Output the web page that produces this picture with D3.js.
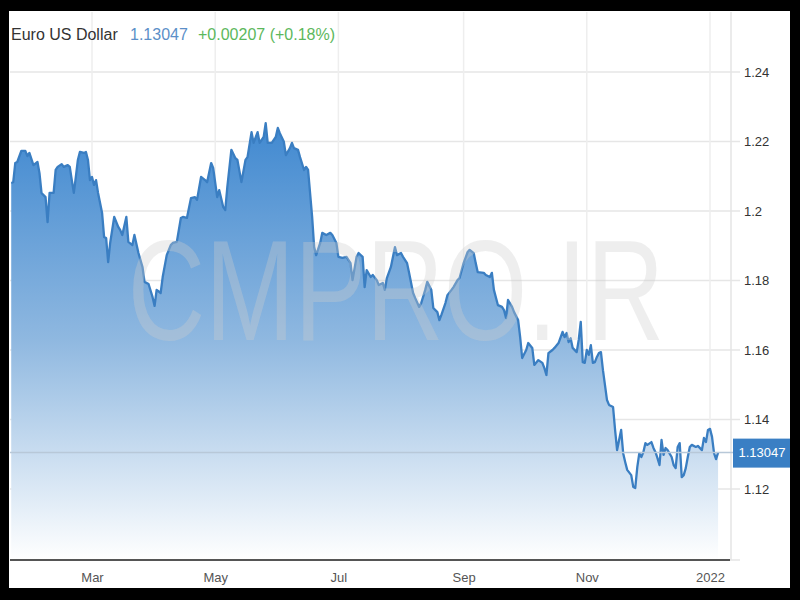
<!DOCTYPE html>
<html><head><meta charset="utf-8">
<script src="https://cdn.jsdelivr.net/npm/d3@7"></script>
<style>body{margin:0;background:#000}svg{display:block;font-family:"Liberation Sans",Arial,sans-serif}</style>
</head><body><svg id="c" width="800" height="600"></svg>
<script>
const dates = ["2021-01-20","2021-01-21","2021-01-22","2021-01-23","2021-01-25","2021-01-27","2021-01-28","2021-01-29","2021-01-31","2021-02-02",
"2021-02-03","2021-02-04","2021-02-06","2021-02-07","2021-02-08","2021-02-10","2021-02-11","2021-02-12","2021-02-14","2021-02-15",
"2021-02-17","2021-02-18","2021-02-19","2021-02-20","2021-02-21","2021-02-22","2021-02-23","2021-02-25","2021-02-26","2021-02-27",
"2021-02-28","2021-03-01","2021-03-02","2021-03-03","2021-03-04","2021-03-06","2021-03-07","2021-03-08","2021-03-09","2021-03-10",
"2021-03-12","2021-03-14","2021-03-15","2021-03-16","2021-03-18","2021-03-19","2021-03-21","2021-03-22","2021-03-24","2021-03-26",
"2021-03-27","2021-03-29","2021-03-31","2021-04-01","2021-04-02","2021-04-04","2021-04-05","2021-04-07","2021-04-09","2021-04-10",
"2021-04-12","2021-04-14","2021-04-15","2021-04-17","2021-04-19","2021-04-21","2021-04-22","2021-04-24","2021-04-26","2021-04-27",
"2021-04-29","2021-04-30","2021-05-02","2021-05-03","2021-05-05","2021-05-06","2021-05-07","2021-05-09","2021-05-11","2021-05-12",
"2021-05-14","2021-05-16","2021-05-17","2021-05-19","2021-05-20","2021-05-22","2021-05-23","2021-05-25","2021-05-26","2021-05-27",
"2021-05-29","2021-05-31","2021-06-01","2021-06-02","2021-06-04","2021-06-05","2021-06-07","2021-06-08","2021-06-09","2021-06-11",
"2021-06-12","2021-06-14","2021-06-15","2021-06-16","2021-06-18","2021-06-19","2021-06-20","2021-06-22","2021-06-23","2021-06-25",
"2021-06-27","2021-06-28","2021-06-30","2021-07-01","2021-07-03","2021-07-05","2021-07-07","2021-07-08","2021-07-10","2021-07-11",
"2021-07-13","2021-07-14","2021-07-15","2021-07-17","2021-07-18","2021-07-20","2021-07-21","2021-07-23","2021-07-24","2021-07-25",
"2021-07-27","2021-07-29","2021-07-30","2021-08-01","2021-08-02","2021-08-04","2021-08-05","2021-08-07","2021-08-08","2021-08-10",
"2021-08-11","2021-08-13","2021-08-14","2021-08-16","2021-08-17","2021-08-19","2021-08-20","2021-08-21","2021-08-23","2021-08-24",
"2021-08-26","2021-08-27","2021-08-29","2021-08-30","2021-09-01","2021-09-03","2021-09-04","2021-09-06","2021-09-07","2021-09-08",
"2021-09-11","2021-09-12","2021-09-14","2021-09-15","2021-09-16","2021-09-18","2021-09-20","2021-09-21","2021-09-22","2021-09-23",
"2021-09-25","2021-09-26","2021-09-28","2021-09-29","2021-09-30","2021-10-02","2021-10-03","2021-10-05","2021-10-06","2021-10-08",
"2021-10-10","2021-10-11","2021-10-12","2021-10-13","2021-10-15","2021-10-16","2021-10-18","2021-10-20","2021-10-21","2021-10-22",
"2021-10-23","2021-10-24","2021-10-25","2021-10-27","2021-10-28","2021-10-29","2021-10-30","2021-10-31","2021-11-01","2021-11-02",
"2021-11-03","2021-11-04","2021-11-05","2021-11-06","2021-11-07","2021-11-08","2021-11-09","2021-11-11","2021-11-12","2021-11-14",
"2021-11-15","2021-11-16","2021-11-17","2021-11-18","2021-11-19","2021-11-20","2021-11-21","2021-11-23","2021-11-24","2021-11-25",
"2021-11-26","2021-11-27","2021-11-28","2021-11-29","2021-11-30","2021-12-01","2021-12-03","2021-12-04","2021-12-05","2021-12-06",
"2021-12-07","2021-12-08","2021-12-09","2021-12-10","2021-12-11","2021-12-13","2021-12-14","2021-12-15","2021-12-16","2021-12-17",
"2021-12-18","2021-12-19","2021-12-20","2021-12-21","2021-12-22","2021-12-23","2021-12-25","2021-12-26","2021-12-28","2021-12-29",
"2021-12-30","2021-12-31","2022-01-01","2022-01-02","2022-01-03","2022-01-04","2022-01-05"];
const values = [1.2081,1.2083,1.2138,1.2141,1.2173,1.2173,1.2158,1.2167,1.2132,1.2141,
1.2109,1.2052,1.2040,1.1968,1.2052,1.2052,1.2118,1.2127,1.2135,1.2127,
1.2132,1.2127,1.2089,1.2052,1.2098,1.2147,1.2170,1.2167,1.2170,1.2147,
1.2089,1.2098,1.2075,1.2089,1.2052,1.1994,1.1925,1.1922,1.1853,1.1908,
1.1983,1.1954,1.1945,1.1931,1.1983,1.1911,1.1902,1.1931,1.1879,1.1839,
1.1796,1.1790,1.1752,1.1727,1.1773,1.1764,1.1810,1.1873,1.1902,1.1908,
1.1911,1.1980,1.1983,1.1980,1.2037,1.2040,1.2032,1.2098,1.2089,1.2083,
1.2138,1.2124,1.2040,1.2060,1.2011,1.2003,1.2069,1.2176,1.2152,1.2147,
1.2083,1.2147,1.2155,1.2227,1.2196,1.2227,1.2196,1.2213,1.2253,1.2196,
1.2196,1.2213,1.2239,1.2224,1.2199,1.2161,1.2181,1.2196,1.2181,1.2176,
1.2155,1.2118,1.2127,1.2118,1.1983,1.1896,1.1873,1.1908,1.1937,1.1931,
1.1937,1.1931,1.1908,1.1868,1.1865,1.1868,1.1850,1.1801,1.1868,1.1879,
1.1868,1.1781,1.1830,1.1810,1.1816,1.1801,1.1787,1.1793,1.1773,1.1807,
1.1839,1.1896,1.1873,1.1879,1.1868,1.1850,1.1822,1.1764,1.1750,1.1724,
1.1735,1.1773,1.1796,1.1773,1.1721,1.1709,1.1686,1.1701,1.1735,1.1758,
1.1773,1.1781,1.1801,1.1807,1.1850,1.1882,1.1888,1.1879,1.1850,1.1824,
1.1822,1.1816,1.1810,1.1822,1.1773,1.1729,1.1724,1.1715,1.1692,1.1744,
1.1724,1.1709,1.1686,1.1637,1.1577,1.1600,1.1620,1.1606,1.1557,1.1571,
1.1563,1.1548,1.1528,1.1591,1.1600,1.1606,1.1620,1.1652,1.1637,1.1649,
1.1623,1.1634,1.1606,1.1594,1.1629,1.1681,1.1565,1.1563,1.1600,1.1586,
1.1614,1.1563,1.1565,1.1580,1.1591,1.1594,1.1542,1.1456,1.1442,1.1436,
1.1370,1.1312,1.1341,1.1370,1.1303,1.1278,1.1255,1.1240,1.1206,1.1203,
1.1263,1.1303,1.1292,1.1306,1.1332,1.1327,1.1335,1.1318,1.1306,1.1289,
1.1269,1.1341,1.1298,1.1318,1.1312,1.1292,1.1269,1.1260,1.1321,1.1332,
1.1234,1.1240,1.1260,1.1292,1.1321,1.1327,1.1321,1.1324,1.1312,1.1347,
1.1335,1.1370,1.1373,1.1350,1.1303,1.1286,1.13047];
const yTicks = [1.12, 1.14, 1.16, 1.18, 1.2, 1.22, 1.24];
const xTickDates = ["2021-03-01","2021-05-01","2021-07-01","2021-09-01","2021-11-01","2022-01-01"];
const xTickLabels = ["Mar","May","Jul","Sep","Nov","2022"];
const titleText = "Euro US Dollar";
const lastPrice = 1.13047;
const changeText = "+0.00207 (+0.18%)";
const watermarkText = "CMPRO.IR";

const parse = d3.timeParse("%Y-%m-%d");
const data = dates.map((d, i) => ({date: parse(d), value: values[i]}));

const svg = d3.select("#c");
// frame
svg.append("rect").attr("width", 800).attr("height", 600).attr("fill", "#000");
svg.append("rect").attr("x", 9).attr("y", 11).attr("width", 781).attr("height", 577).attr("fill", "#fff");

const plotL = 10, plotR = 731, plotT = 12, plotB = 560;
const x = d3.scaleTime().domain([parse("2021-03-01"), parse("2022-01-01")]).range([92, 710]);
const y = d3.scaleLinear().domain([1.12, 1.24]).range([489, 72]);

const defs = svg.append("defs");
const grad = defs.append("linearGradient").attr("id", "g").attr("gradientUnits", "userSpaceOnUse")
  .attr("x1", 0).attr("x2", 0).attr("y1", 120).attr("y2", plotB);
grad.append("stop").attr("offset", "0").attr("stop-color", "#3f88d0");
grad.append("stop").attr("offset", "0.5").attr("stop-color", "#8fb8e0");
grad.append("stop").attr("offset", "1").attr("stop-color", "#ffffff");
defs.append("clipPath").attr("id", "clip").append("rect")
  .attr("x", plotL).attr("y", plotT).attr("width", plotR - plotL).attr("height", plotB - plotT);

// gridlines
const grid = svg.append("g");
grid.selectAll("line.h").data(yTicks).join("line").attr("class", "h")
  .attr("x1", plotL).attr("x2", 740).attr("y1", d => y(d)).attr("y2", d => y(d))
  .attr("stroke", "#e6e6e6").attr("stroke-width", 1.5);
grid.selectAll("line.v").data(xTickDates).join("line").attr("class", "v")
  .attr("x1", d => x(parse(d))).attr("x2", d => x(parse(d))).attr("y1", plotT).attr("y2", plotB)
  .attr("stroke", "#eeeeee").attr("stroke-width", 1.5);
grid.append("line").attr("x1", plotR).attr("x2", plotR).attr("y1", plotT).attr("y2", plotB)
  .attr("stroke", "#e4e4e4").attr("stroke-width", 1.5);

const g = svg.append("g").attr("clip-path", "url(#clip)");
const area = d3.area().x(d => x(d.date)).y0(plotB).y1(d => y(d.value)).curve(d3.curveLinear);
const line = d3.line().x(d => x(d.date)).y(d => y(d.value));
g.append("path").datum(data).attr("d", area).attr("fill", "url(#g)");

// watermark (horizontally condensed)
svg.append("text").attr("transform", "translate(396,340) scale(0.756,1)").attr("text-anchor", "middle")
  .attr("font-size", 142)
  .attr("fill", "rgb(205,205,205)").attr("fill-opacity", 0.34).text(watermarkText);

g.append("path").datum(data).attr("d", line).attr("fill", "none")
  .attr("stroke", "#3a7ec2").attr("stroke-width", 2.3).attr("stroke-linejoin", "round");

// current price line
svg.append("line").attr("x1", plotL).attr("x2", 733).attr("y1", y(lastPrice)).attr("y2", y(lastPrice))
  .attr("stroke", "#b8c8d8").attr("stroke-width", 1.5);

// x axis
const xAxis = d3.axisBottom(x).tickValues(xTickDates.map(parse))
  .tickFormat((d, i) => xTickLabels[i]).tickSize(0).tickPadding(13);
const xa = svg.append("g").attr("transform", `translate(0,${plotB})`).call(xAxis);
xa.select(".domain").remove();
xa.selectAll("text").attr("font-size", 13).attr("fill", "#555").attr("font-family", "Liberation Sans, Arial");
svg.append("line").attr("x1", plotL).attr("x2", 730).attr("y1", plotB).attr("y2", plotB)
  .attr("stroke", "#555").attr("stroke-width", 2);
svg.append("line").attr("x1", 730).attr("x2", 740).attr("y1", plotB).attr("y2", plotB)
  .attr("stroke", "#e4e4e4").attr("stroke-width", 1.5);

// y axis (right)
const yAxis = d3.axisRight(y).tickValues(yTicks).tickFormat(d => String(d)).tickSize(0).tickPadding(0);
const ya = svg.append("g").attr("transform", "translate(744,0)").call(yAxis);
ya.select(".domain").remove();
ya.selectAll("text").attr("font-size", 13).attr("fill", "#333").attr("font-family", "Liberation Sans, Arial");

// price box
svg.append("rect").attr("x", 733).attr("y", y(lastPrice) - 14).attr("width", 57).attr("height", 29).attr("fill", "#3a7fc4");
svg.append("text").attr("x", 762).attr("y", y(lastPrice)).attr("dy", "0.35em").attr("text-anchor", "middle")
  .attr("font-size", 13).attr("fill", "#fff").text(String(lastPrice));

// title
const t = svg.append("text").attr("x", 11).attr("y", 40).attr("font-size", 16);
t.append("tspan").attr("fill", "#333").text(titleText);
t.append("tspan").attr("x", 130).attr("fill", "#5b8fc8").text(String(lastPrice));
t.append("tspan").attr("x", 198).attr("fill", "#5cb85c").text(changeText);
</script></body></html>
